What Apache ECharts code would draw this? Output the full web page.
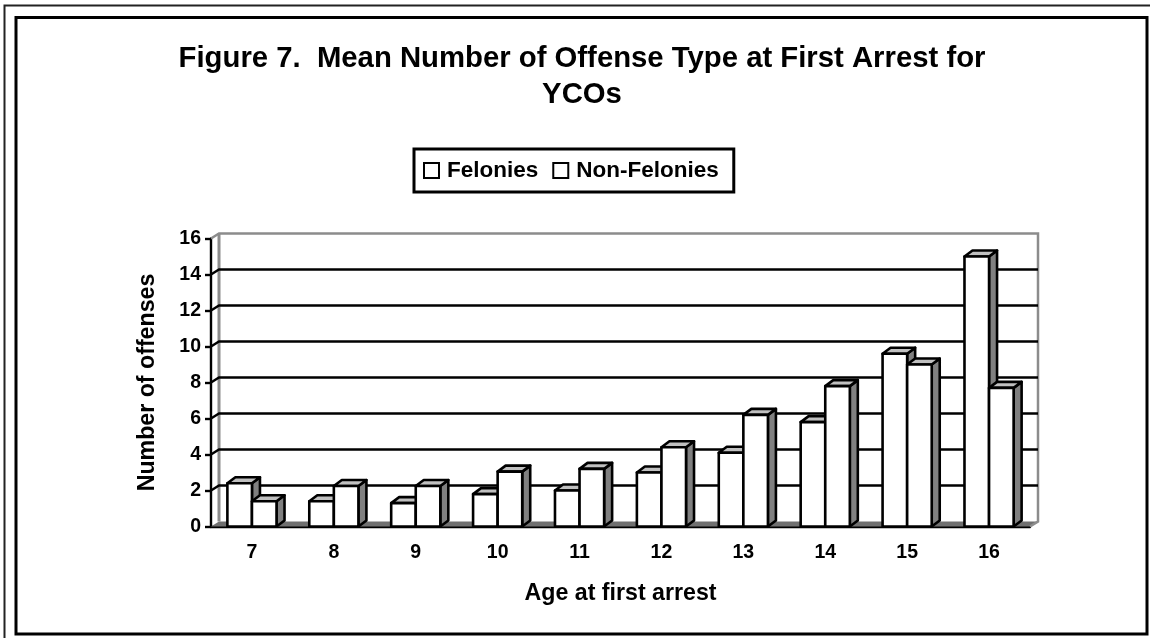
<!DOCTYPE html>
<html>
<head>
<meta charset="utf-8">
<style>html,body{margin:0;padding:0;background:#fff}#chart{width:1150px;height:638px}</style>
<script src="https://cdn.jsdelivr.net/npm/echarts@6/dist/echarts.min.js"></script>
</head>
<body>
<div id="chart"></div>
<script>
const ages = ['7', '8', '9', '10', '11', '12', '13', '14', '15', '16'];
const felonies = [2.4, 1.4, 1.3, 1.8, 2.0, 3.0, 4.1, 5.8, 9.6, 15.0];
const nonFelonies = [1.4, 2.25, 2.25, 3.05, 3.2, 4.4, 6.2, 7.8, 9.0, 7.7];
const gridValues = [2, 4, 6, 8, 10, 12, 14];

const FONT = '"Liberation Sans", Arial, sans-serif';
// Depth of the pseudo-3D box and of each column, in pixels.
const WALL_DX = 8, WALL_DY = -5;
const BAR_DX = 8, BAR_DY = -6;

function wallItem(params, api) {
  const band = api.size([1, 0])[0];
  const o = api.coord([0, 0]);
  const t = api.coord([0, 16]);
  const x0 = o[0] - band / 2, x1 = x0 + band * ages.length;
  const y0 = o[1], y1 = t[1];
  return {
    type: 'group',
    children: [
      { type: 'polygon', shape: { points: [[x0, y0], [x1, y0], [x1 + WALL_DX, y0 + WALL_DY], [x0 + WALL_DX, y0 + WALL_DY]] },
        style: { fill: '#707070', stroke: null } },
      { type: 'polyline', shape: { points: [[x0, y1], [x0 + WALL_DX, y1 + WALL_DY], [x1 + WALL_DX, y1 + WALL_DY], [x1 + WALL_DX, y0 + WALL_DY], [x1, y0]] },
        style: { fill: null, stroke: '#8c8c8c', lineWidth: 2.5 } },
      { type: 'line', shape: { x1: x0 + WALL_DX, y1: y1 + WALL_DY, x2: x0 + WALL_DX, y2: y0 + WALL_DY },
        style: { stroke: '#8c8c8c', lineWidth: 3 } }
    ]
  };
}

function gridItem(params, api) {
  const band = api.size([1, 0])[0];
  const p = api.coord([0, api.value(0)]);
  const x0 = p[0] - band / 2, x1 = x0 + band * ages.length;
  return {
    type: 'polyline',
    shape: { points: [[x0, p[1]], [x0 + WALL_DX, p[1] + WALL_DY], [x1 + WALL_DX, p[1] + WALL_DY]] },
    style: { fill: null, stroke: '#000', lineWidth: 2.4 }
  };
}

function columnRenderer(slot) {
  return function (params, api) {
    const band = api.size([1, 0])[0];
    const w = band * 0.3;
    const base = api.coord([api.value(0), 0]);
    const top = api.coord([api.value(0), api.value(1)]);
    const l = base[0] + slot * w, r = l + w;
    const b = base[1], t = top[1];
    const stroke = { stroke: '#000', lineWidth: 2.6, lineJoin: 'round' };
    return {
      type: 'group',
      children: [
        { type: 'polygon', shape: { points: [[r, b], [r, t], [r + BAR_DX, t + BAR_DY], [r + BAR_DX, b + BAR_DY]] },
          style: Object.assign({ fill: '#808080' }, stroke) },
        { type: 'polygon', shape: { points: [[l, t], [l + BAR_DX, t + BAR_DY], [r + BAR_DX, t + BAR_DY], [r, t]] },
          style: Object.assign({ fill: '#c0c0c0' }, stroke) },
        { type: 'rect', shape: { x: l, y: t, width: w, height: b - t },
          style: Object.assign({ fill: '#fff' }, stroke) }
      ]
    };
  };
}

const chart = echarts.init(document.getElementById('chart'), null, { renderer: 'canvas' });
const swatch = { color: '#fff', borderColor: '#000', borderWidth: 2.4 };

chart.setOption({
  animation: false,
  backgroundColor: '#fff',
  textStyle: { fontFamily: FONT },
  title: {
    text: 'Figure 7.  Mean Number of Offense Type at First Arrest for\nYCOs',
    left: 577, top: 36, textAlign: 'center',
    textStyle: { fontFamily: FONT, fontSize: 29.3, fontWeight: 'bold', color: '#000', lineHeight: 36 }
  },
  legend: {
    data: ['Felonies', 'Non-Felonies'],
    left: 414, top: 149,
    padding: [10, 15, 10, 9],
    borderColor: '#000', borderWidth: 3,
    backgroundColor: '#fff',
    icon: 'rect', itemWidth: 15, itemHeight: 15, itemGap: 14,
    textStyle: { fontFamily: FONT, fontSize: 22.5, fontWeight: 'bold', color: '#000', padding: [0, 0, 0, 3] }
  },
  grid: { left: 211, top: 238.5, width: 819, height: 288 },
  xAxis: {
    type: 'category', data: ages,
    name: 'Age at first arrest', nameLocation: 'middle', nameGap: 56,
    nameTextStyle: { fontFamily: FONT, fontSize: 23.2, fontWeight: 'bold', color: '#000' },
    axisLine: { lineStyle: { color: '#000', width: 2.4 } },
    axisTick: { length: 7, lineStyle: { color: '#000', width: 2.4 } },
    axisLabel: { fontFamily: FONT, fontSize: 19.5, fontWeight: 'bold', color: '#000', margin: 16 },
    splitLine: { show: false }
  },
  yAxis: {
    type: 'value', min: 0, max: 16, interval: 2,
    name: 'Number of offenses', nameLocation: 'middle', nameGap: 52,
    nameTextStyle: { fontFamily: FONT, fontSize: 23.2, fontWeight: 'bold', color: '#000' },
    axisLine: { show: true, lineStyle: { color: '#000', width: 2.4 } },
    axisTick: { show: true, length: 6, lineStyle: { color: '#000', width: 2.4 } },
    axisLabel: { fontFamily: FONT, fontSize: 19.5, fontWeight: 'bold', color: '#000', margin: 10 },
    splitLine: { show: false }
  },
  series: [
    { name: 'box', type: 'custom', coordinateSystem: 'cartesian2d', renderItem: wallItem,
      data: [[0, 0]], clip: false, silent: true, z: 1 },
    { name: 'grid', type: 'custom', coordinateSystem: 'cartesian2d', renderItem: gridItem,
      data: gridValues.map(v => [v]), encode: { y: 0 }, clip: false, silent: true, z: 1 },
    { name: 'Felonies', type: 'custom', coordinateSystem: 'cartesian2d', renderItem: columnRenderer(-1),
      data: felonies.map((v, i) => [i, v]), encode: { x: 0, y: 1 }, clip: false, z: 3, itemStyle: swatch },
    { name: 'Non-Felonies', type: 'custom', coordinateSystem: 'cartesian2d', renderItem: columnRenderer(0),
      data: nonFelonies.map((v, i) => [i, v]), encode: { x: 0, y: 1 }, clip: false, z: 4, itemStyle: swatch }
  ],
  graphic: [
    // Double page frame: the outer rule runs off the right and bottom edges.
    { type: 'polyline', silent: true, z: 10, shape: { points: [[4.5, 640], [4.5, 5.5], [1152, 5.5]] },
      style: { fill: null, stroke: '#222', lineWidth: 2 } },
    { type: 'rect', silent: true, z: 10, shape: { x: 16, y: 17.5, width: 1131, height: 616.5 },
      style: { fill: null, stroke: '#000', lineWidth: 3 } }
  ]
});
</script>
</body>
</html>
